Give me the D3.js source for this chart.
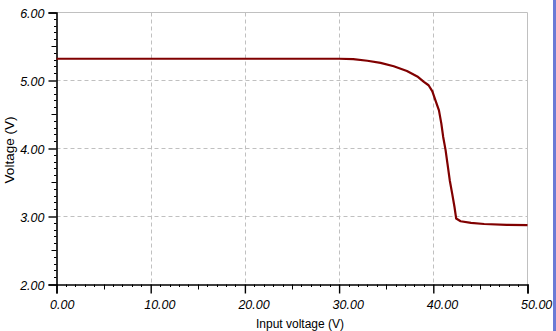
<!DOCTYPE html>
<html>
<head>
<meta charset="utf-8">
<script src="https://cdn.jsdelivr.net/npm/d3@7"></script>
<style>
  body { margin: 0; background: #fff; }
  svg { display: block; }
  .tick-label { font-family: "Liberation Sans", Arial, sans-serif; font-style: italic; font-size: 12.5px; fill: #000; }
  .title { font-family: "Liberation Sans", Arial, sans-serif; fill: #000; }
</style>
</head>
<body>
<div id="chart"></div>
<script>
// curve
const inputV  = [0, 5, 10, 15, 20, 25, 30, 31.5, 33, 34.4, 35.8, 37.2, 38.3, 39.0, 39.5, 39.9, 40.2, 40.6, 40.85, 41.05, 41.3, 41.5, 41.75, 42.0, 42.25, 42.43, 42.9, 44.0, 45.4, 47.8, 50];
const outputV = [5.32, 5.32, 5.32, 5.32, 5.32, 5.32, 5.32, 5.315, 5.29, 5.26, 5.21, 5.14, 5.06, 4.98, 4.93, 4.84, 4.72, 4.56, 4.37, 4.17, 3.98, 3.78, 3.53, 3.34, 3.14, 2.97, 2.93, 2.905, 2.89, 2.877, 2.873];

const xTicks = [0, 10, 20, 30, 40, 50];
const yTicks = [2, 3, 4, 5, 6];
const xTitle = 'Input voltage (V)';
const yTitle = 'Voltage (V)';

const width = 556, height = 331;
const plotL = 56.5, plotR = 527.5, plotT = 12.5, plotB = 284.5;

const svg = d3.select('#chart').append('svg')
  .attr('width', width)
  .attr('height', height);

const x = d3.scaleLinear().domain([0, 50]).range([plotL, plotR]);
const y = d3.scaleLinear().domain([2, 6]).range([plotB, plotT]);

// grid
const grid = svg.append('g').attr('stroke', '#c0c0c0').attr('stroke-width', 1);
grid.selectAll('.gx').data(xTicks.slice(1, -1)).join('line')
  .attr('x1', d => Math.round(x(d)) + 0.5).attr('x2', d => Math.round(x(d)) + 0.5)
  .attr('y1', plotT).attr('y2', plotB)
  .attr('stroke-dasharray', '4,3');
grid.selectAll('.gy').data(yTicks.slice(1, -1)).join('line')
  .attr('y1', d => Math.round(y(d) - 0.5) + 0.5).attr('y2', d => Math.round(y(d) - 0.5) + 0.5)
  .attr('x1', plotL).attr('x2', plotR)
  .attr('stroke-dasharray', '4,3');
// top and right frame
grid.append('line').attr('x1', plotL).attr('x2', plotR).attr('y1', plotT).attr('y2', plotT);
grid.append('line').attr('x1', plotR).attr('x2', plotR).attr('y1', plotT).attr('y2', plotB);

// minor / medium ticks
const axes = svg.append('g').attr('stroke', '#000').attr('stroke-width', 1);
axes.selectAll('.mx').data(d3.range(0, 51, 1).filter(d => d % 10 !== 0)).join('line')
  .attr('x1', d => Math.round(x(d)) + 0.5).attr('x2', d => Math.round(x(d)) + 0.5)
  .attr('y1', plotB).attr('y2', d => plotB + (d % 5 === 0 ? 5 : 2.5));
axes.selectAll('.my').data(d3.range(20, 61, 1).map(d => d / 10).filter(d => Math.abs(d - Math.round(d)) > 1e-6)).join('line')
  .attr('y1', d => Math.round(y(d) - 0.5) + 0.5).attr('y2', d => Math.round(y(d) - 0.5) + 0.5)
  .attr('x1', plotL).attr('x2', d => plotL - (Math.abs(d * 2 - Math.round(d * 2)) < 1e-6 ? 5 : 2.5));

// x axis
const xAxis = d3.axisBottom(x).tickValues(xTicks).tickSize(9).tickFormat(d3.format('.2f'));
const gx = svg.append('g').attr('transform', `translate(0,${plotB})`).call(xAxis);
gx.select('.domain').attr('stroke', '#000').attr('stroke-width', 1.6);
gx.selectAll('.tick line').attr('stroke', '#000').attr('stroke-width', 1.4);
gx.selectAll('.tick text').attr('class', 'tick-label')
  .attr('text-anchor', 'start').attr('dx', -7).attr('y', 16).attr('dy', '0.71em');
gx.attr('font-family', null).attr('font-size', null);

// y axis
const yAxis = d3.axisLeft(y).tickValues(yTicks).tickSize(8).tickFormat(d3.format('.2f'));
const gy = svg.append('g').attr('transform', `translate(${plotL},0)`).call(yAxis);
gy.select('.domain').attr('stroke', '#000').attr('stroke-width', 1.6);
gy.selectAll('.tick line').attr('stroke', '#000').attr('stroke-width', 1.4);
gy.selectAll('.tick text').attr('class', 'tick-label')
  .attr('x', -12).attr('dy', '0.36em');
gy.attr('font-family', null).attr('font-size', null);

// curve
const pts = inputV.map((v, i) => [v, outputV[i]]);
svg.append('path')
  .datum(pts)
  .attr('fill', 'none')
  .attr('stroke', '#800000')
  .attr('stroke-width', 2.2)
  .attr('stroke-linejoin', 'round')
  .attr('d', d3.line().x(d => x(d[0])).y(d => y(d[1])));

// titles
svg.append('text').attr('class', 'title')
  .attr('x', 300).attr('y', 328)
  .attr('text-anchor', 'middle').attr('font-size', 12)
  .text(xTitle);
svg.append('text').attr('class', 'title')
  .attr('transform', 'translate(14,150) rotate(-90)')
  .attr('text-anchor', 'middle').attr('font-size', 13.5)
  .text(yTitle);

// window edge strip on the right
svg.append('rect').attr('x', 553).attr('y', 0).attr('width', 3).attr('height', height).attr('fill', '#6b7bd6');
</script>
</body>
</html>
